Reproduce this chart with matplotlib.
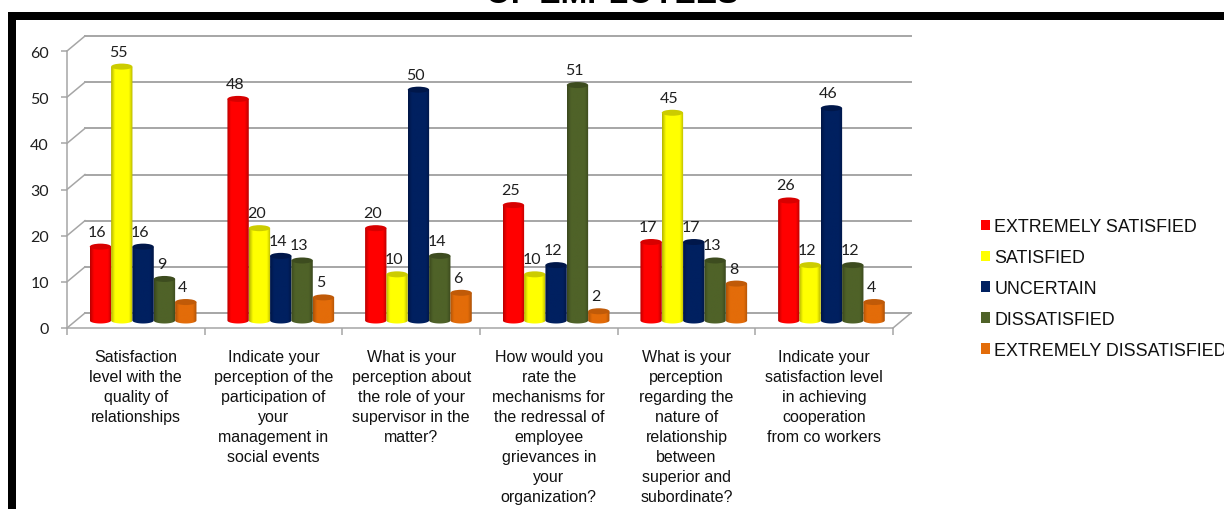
import matplotlib
matplotlib.use("Agg")
import matplotlib.pyplot as plt
import numpy as np
from matplotlib.colors import LinearSegmentedColormap
from matplotlib.patches import Ellipse, Patch, PathPatch, Rectangle
from matplotlib.path import Path

questions = [
    "Satisfaction\nlevel with the\nquality of\nrelationships",
    "Indicate your\nperception of the\nparticipation of\nyour\nmanagement in\nsocial events",
    "What is your\nperception about\nthe role of your\nsupervisor in the\nmatter?",
    "How would you\nrate the\nmechanisms for\nthe redressal of\nemployee\ngrievances in\nyour\norganization?",
    "What is your\nperception\nregarding the\nnature of\nrelationship\nbetween\nsuperior and\nsubordinate?",
    "Indicate your\nsatisfaction level\nin achieving\ncooperation\nfrom co workers",
]
series_names = ["EXTREMELY SATISFIED", "SATISFIED", "UNCERTAIN", "DISSATISFIED", "EXTREMELY DISSATISFIED"]
extremely_satisfied = [16, 48, 20, 25, 17, 26]
satisfied = [55, 20, 10, 10, 45, 12]
uncertain = [16, 14, 50, 12, 17, 46]
dissatisfied = [9, 13, 14, 51, 13, 12]
extremely_dissatisfied = [4, 5, 6, 2, 8, 4]
y_ticks = [0, 10, 20, 30, 40, 50, 60]

all_values = [extremely_satisfied, satisfied, uncertain, dissatisfied, extremely_dissatisfied]
base_colors = ["#ff0000", "#ffff00", "#002060", "#4f6228", "#e36c09"]
edge_colors = ["#b80000", "#b4b400", "#001645", "#3a481d", "#ad5207"]
cap_colors = ["#d80000", "#cccc00", "#00174a", "#3d4c1f", "#c05a08"]
GRID = "#a6a6a6"

W, H = 1224, 510
fig = plt.figure(figsize=(W / 100, H / 100), dpi=100, facecolor="white")
ax = fig.add_axes([67 / W, (H - 329) / H, 826 / W, 277 / H])
ax.set_xlim(0, 6)
ax.set_ylim(0, 60)

# depth of the 3d box, in data units (18 px across, 15 px up)
depth_x = 18 / (826 / 6)
depth_y = 15 / (277 / 60)

# back wall, side wall and floor
for v in y_ticks:
    ax.plot([depth_x, 6 + depth_x], [v + depth_y, v + depth_y], color=GRID, lw=1.4, clip_on=False, zorder=1)
    ax.plot([0, depth_x], [v, v + depth_y], color=GRID, lw=1.1, clip_on=False, zorder=1)
ax.plot([6, 6 + depth_x], [0, depth_y], color=GRID, lw=1.1, clip_on=False, zorder=1)

bar_w = 0.155
start = 0.10
cap_h = 1.3

for s, values in enumerate(all_values):
    cmap = LinearSegmentedColormap.from_list(
        "cyl", [(0, edge_colors[s]), (0.18, base_colors[s]), (0.82, base_colors[s]), (1, edge_colors[s])]
    )
    for c, v in enumerate(values):
        x0 = c + start + s * bar_w + depth_x / 2
        x1 = x0 + bar_w
        xc = (x0 + x1) / 2
        y0 = depth_y / 2
        top = v + depth_y / 2
        # outline of the cylinder side, rounded at the bottom
        t = np.linspace(np.pi, 2 * np.pi, 30)
        bx = xc + bar_w / 2 * np.cos(t)
        by = y0 + cap_h / 2 * np.sin(t)
        verts = list(zip(bx, by)) + [(x1, top), (x0, top), (x0, y0)]
        z = 3 + s * 0.1
        clip = PathPatch(Path(verts), facecolor="none", edgecolor="none", zorder=z)
        ax.add_patch(clip)
        im = ax.imshow(
            np.linspace(0, 1, 64).reshape(1, -1), cmap=cmap, aspect="auto",
            extent=(x0, x1, y0 - cap_h, top), zorder=z, interpolation="bilinear",
        )
        im.set_clip_path(clip)
        ax.add_patch(Ellipse((xc, top), bar_w, cap_h, facecolor=cap_colors[s], edgecolor="none",
                             zorder=z + 0.01, clip_on=False))
        ax.annotate(str(v), (xc, top), xytext=(-3, 15), textcoords="offset pixels", ha="center", va="center",
                    fontsize=11.5, family="Lato", color="#1f1f1f", zorder=6, annotation_clip=False)

ax.set_xlim(0, 6)
ax.set_ylim(0, 60)

for side in ["top", "right"]:
    ax.spines[side].set_visible(False)
for side in ["left", "bottom"]:
    ax.spines[side].set_color(GRID)
    ax.spines[side].set_linewidth(1.1)

ax.set_yticks(y_ticks)
ax.tick_params(axis="y", color=GRID, length=4, width=1.1, pad=9, labelsize=11.5, labelcolor="#1f1f1f")
for lab in ax.get_yticklabels():
    lab.set_family("Lato")

ax.set_xticks(range(7))
ax.set_xticklabels([])
ax.set_xticks(np.arange(6) + 0.5, minor=True)
ax.set_xticklabels(questions, minor=True, fontsize=11.5, family="Liberation Sans", color="#111111", linespacing=1.42)
ax.tick_params(axis="x", which="major", color=GRID, length=5, width=1.1)
ax.tick_params(axis="x", which="minor", length=0, pad=15)

handles = [Patch(facecolor=c, edgecolor="none") for c in base_colors]
fig.legend(handles, series_names, loc="upper left", bbox_to_anchor=(981 / W, (H - 219) / H), frameon=False,
           prop={"family": "Liberation Sans", "size": 12.9}, labelcolor="#111111",
           handlelength=0.5, handleheight=0.5, handletextpad=0.25, labelspacing=0.78, borderpad=0, borderaxespad=0)

# black frame of the slide and the title running off the top
fig.add_artist(Rectangle((8 / W, 0), 8 / W, (H - 13) / H, transform=fig.transFigure, color="black", lw=0))
fig.add_artist(Rectangle((8 / W, (H - 21) / H), (W - 8) / W, 8 / H, transform=fig.transFigure, color="black", lw=0))
fig.text(612 / W, (H - 3) / H, "OF EMPLOYEES", ha="center", va="baseline", fontsize=23,
         family="Liberation Sans", weight="bold", color="black")

fig.savefig("out.png", dpi=100, facecolor="white")
